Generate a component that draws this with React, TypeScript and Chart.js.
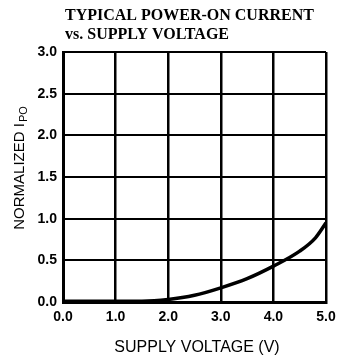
import React, { useEffect, useRef } from "react";
import { Chart, registerables } from "chart.js";

Chart.register(...registerables);

const titleLines = ["TYPICAL POWER-ON CURRENT", "vs. SUPPLY VOLTAGE"];
const xAxisTitle = "SUPPLY VOLTAGE (V)";
const yAxisTitleMain = "NORMALIZED I";
const yAxisTitleSub = "PO";

const voltage = [0, 0.5, 1.0, 1.5, 2.0, 2.5, 3.0, 3.5, 4.0, 4.5, 4.8, 5.0];
const normalizedIpo = [0.01, 0.01, 0.01, 0.01, 0.03, 0.08, 0.17, 0.28, 0.43, 0.61, 0.77, 0.95];

const xTicks = [0, 1, 2, 3, 4, 5];
const yTicks = [0, 0.5, 1, 1.5, 2, 2.5, 3];

const textPlugin = {
  id: "textPlugin",
  afterDraw(chart: any) {
    const ctx = chart.ctx as CanvasRenderingContext2D;
    ctx.save();
    ctx.fillStyle = "#000";
    ctx.font = 'bold 16px "Liberation Serif", "Times New Roman", serif';
    ctx.textAlign = "left";
    ctx.textBaseline = "alphabetic";
    ctx.fillText(titleLines[0], 65, 20);
    ctx.fillText(titleLines[1], 65, 39);

    ctx.font = '16px "Liberation Sans", Arial, sans-serif';
    ctx.textAlign = "center";
    ctx.fillText(xAxisTitle, 197, 352);

    const mainFont = '15px "Liberation Sans", Arial, sans-serif';
    const subFont = '11px "Liberation Sans", Arial, sans-serif';
    ctx.font = mainFont;
    const w1 = ctx.measureText(yAxisTitleMain).width;
    ctx.font = subFont;
    const w2 = ctx.measureText(yAxisTitleSub).width;
    const total = w1 + 1 + w2;
    ctx.translate(24, 168);
    ctx.rotate(-Math.PI / 2);
    ctx.textAlign = "left";
    ctx.font = mainFont;
    ctx.fillText(yAxisTitleMain, -total / 2, 0);
    ctx.font = subFont;
    ctx.fillText(yAxisTitleSub, -total / 2 + w1 + 1, 3);
    ctx.restore();
  },
};

export default function App() {
  const ref = useRef<HTMLCanvasElement | null>(null);
  useEffect(() => {
    if (!ref.current) return;
    const tickFont = { family: '"Liberation Sans", Arial, sans-serif', size: 14, weight: "bold" as const };
    const chart = new Chart(ref.current, {
      type: "scatter",
      data: {
        datasets: [
          {
            data: voltage.map((v, i) => ({ x: v, y: normalizedIpo[i] })),
            showLine: true,
            borderColor: "#000",
            borderWidth: 3.5,
            pointRadius: 0,
            cubicInterpolationMode: "monotone",
          } as any,
        ],
      },
      options: {
        animation: false,
        responsive: false,
        maintainAspectRatio: false,
        layout: { padding: { top: 52, right: 14, left: 0, bottom: 0 } },
        plugins: { legend: { display: false }, tooltip: { enabled: false }, title: { display: false } },
        scales: {
          x: {
            type: "linear",
            min: 0,
            max: 5,
            afterBuildTicks: (s: any) => {
              s.ticks = xTicks.map((v) => ({ value: v }));
            },
            afterFit: (s: any) => {
              s.height = 54;
              s.paddingLeft = 0;
              s.paddingRight = 0;
            },
            ticks: {
              color: "#000",
              font: tickFont,
              padding: 7,
              maxRotation: 0,
              callback: (v: any) => Number(v).toFixed(1),
            },
            grid: { color: "#000", lineWidth: 2.5, drawTicks: false },
            border: { color: "#000", width: 3 },
          },
          y: {
            type: "linear",
            min: 0,
            max: 3,
            afterBuildTicks: (s: any) => {
              s.ticks = yTicks.map((v) => ({ value: v }));
            },
            afterFit: (s: any) => {
              s.width = 63;
              s.paddingTop = 0;
              s.paddingBottom = 0;
            },
            ticks: {
              color: "#000",
              font: tickFont,
              padding: 6,
              callback: (v: any) => Number(v).toFixed(1),
            },
            grid: { color: "#000", lineWidth: 2, drawTicks: false },
            border: { color: "#000", width: 3 },
          },
        },
      },
      plugins: [textPlugin],
    });
    return () => chart.destroy();
  }, []);
  return (
    <div style={{ position: "absolute", left: 0, top: 0, width: 340, height: 356, background: "#fff" }}>
      <canvas ref={ref} width={340} height={356} style={{ display: "block", width: 340, height: 356 }} />
    </div>
  );
}
